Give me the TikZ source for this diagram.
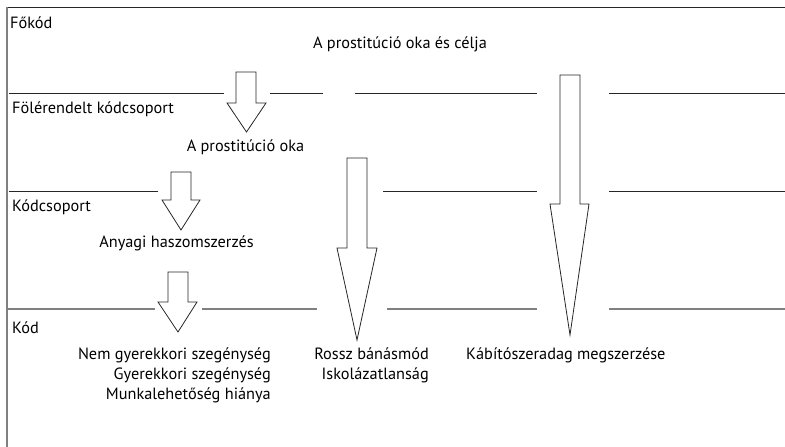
\documentclass[tikz,border=0pt]{standalone}
\usepackage{fontspec}
\setmainfont{PT Sans}
\begin{document}
\begin{tikzpicture}[x=1pt,y=-1pt,
  lbl/.style={inner sep=0pt,font=\fontsize{16.3}{20}\selectfont},
  rule/.style={draw=black!85,line width=0.9pt},
  grule/.style={draw=black!50,line width=1.1pt},
  barrow/.style={draw=black!85,line width=0.8pt,fill=white,line join=miter}]
\useasboundingbox (0,0) rectangle (785,447);
% frame
\draw[rule] (7,7) -- (785,7);
\draw[grule] (7,7) -- (7,447);
% row 1
\draw[rule] (9,93) -- (224,93);
\draw[rule] (270,93) -- (323,93);
\draw[rule] (355,93) -- (537,93);
\draw[rule] (609,93) -- (785,93);
% row 2
\draw[rule] (9,191) -- (158,191);
\draw[rule] (383,191) -- (537,191);
\draw[rule] (609,191) -- (785,191);
% row 3
\draw[grule] (8,309) -- (155,309);
\draw[grule] (202,309) -- (317,309);
\draw[grule] (387,309) -- (537,309);
\draw[grule] (609,309) -- (785,309);
% block arrows
\draw[barrow] (236,72) -- (256,72) -- (256,103) -- (266,103) -- (246.5,132) -- (227,103) -- (236,103) -- cycle;
\draw[barrow] (171,172) -- (191,172) -- (191,200) -- (200,200) -- (181,230) -- (162,200) -- (171,200) -- cycle;
\draw[barrow] (168,272) -- (188,272) -- (188,302) -- (197,302) -- (178,332) -- (158,302) -- (168,302) -- cycle;
\draw[barrow] (347,158) -- (367,158) -- (367,248) -- (377,248) -- (357,340) -- (337,248) -- (347,248) -- cycle;
\draw[barrow] (560,75) -- (580,75) -- (580,204) -- (589,204) -- (570,335) -- (550,204) -- (560,204) -- cycle;
% labels
\node[lbl,anchor=base west] (fokod) at (10,28) {Főkód};
\node[lbl,anchor=base] (cel) at (400,48) {A prostitúció oka és célja};
\node[lbl,anchor=base west] (fol) at (12,113) {Fölérendelt kódcsoport};
\node[lbl,anchor=base] (oka) at (245.5,151) {A prostitúció oka};
\node[lbl,anchor=base west] (kcs) at (12,211) {Kódcsoport};
\node[lbl,anchor=base] (anyagi) at (176.5,247) {Anyagi haszomszerzés};
\node[lbl,anchor=base west] (kod) at (12,333) {Kód};
\node[lbl,anchor=base east] (k1) at (271,359) {Nem gyerekkori szegénység};
\node[lbl,anchor=base east] (k2) at (271,379) {Gyerekkori szegénység};
\node[lbl,anchor=base east] (k3) at (271,399) {Munkalehetőség hiánya};
\node[lbl,anchor=base east] (r1) at (429,359) {Rossz bánásmód};
\node[lbl,anchor=base east] (r2) at (429,379) {Iskolázatlanság};
\node[lbl,anchor=base west] (kab) at (466,359) {Kábítószeradag megszerzése};
\end{tikzpicture}
\end{document}
